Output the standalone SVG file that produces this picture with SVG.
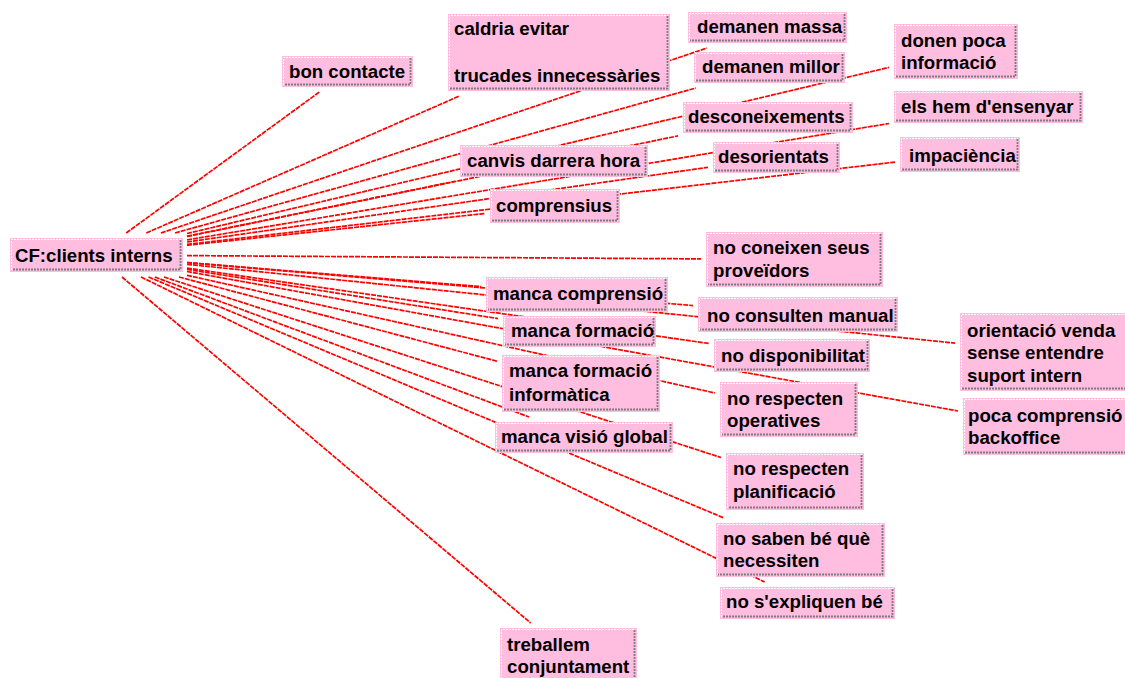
<svg xmlns="http://www.w3.org/2000/svg" width="1125" height="678" viewBox="0 0 1125 678">
  <style>
    .bg { fill: #ffffff; }
    .link { stroke: #ff0000; stroke-width: 1.7; stroke-dasharray: 5 1; fill: none; }
    .node rect { fill: #ffbddf; }
    .node .hi { fill: none; stroke: #ffffff; stroke-width: 1; stroke-dasharray: 2 1; }
    .node .lo { fill: none; stroke: #7c7c7c; stroke-width: 1.8; stroke-dasharray: 2 1; }
    .node text { font-family: "Liberation Sans", Arial, sans-serif; font-weight: bold; font-size: 18.67px; fill: #000000; }
  </style>
  <rect class="bg" x="0" y="0" width="1125" height="678"/>

  <!-- connectors: every branch radiates from the central node -->
  <g id="connectors">
    <line class="link" x1="126.2" y1="233" x2="319.4" y2="92"/>
    <line class="link" x1="146.3" y1="233" x2="459.5" y2="96"/>
    <line class="link" x1="160.9" y1="233" x2="707" y2="48"/>
    <line class="link" x1="175" y1="233" x2="695.9" y2="88"/>
    <line class="link" x1="187" y1="233.5" x2="889" y2="67.4"/>
    <line class="link" x1="187" y1="239.9" x2="889" y2="123.5"/>
    <line class="link" x1="187" y1="244.4" x2="895" y2="162.1"/>
    <line class="link" x1="187" y1="236.4" x2="678" y2="135.9"/>
    <line class="link" x1="187" y1="236.3" x2="455" y2="181.3"/>
    <line class="link" x1="187" y1="242" x2="708" y2="167.3"/>
    <line class="link" x1="187" y1="245.3" x2="485" y2="213.5"/>
    <line class="link" x1="187" y1="255.6" x2="701" y2="258.9"/>
    <line class="link" x1="187" y1="262.5" x2="481" y2="286.6"/>
    <line class="link" x1="187" y1="262.7" x2="693" y2="305.6"/>
    <line class="link" x1="187" y1="269.4" x2="498" y2="318.6"/>
    <line class="link" x1="187" y1="268.1" x2="709" y2="343.5"/>
    <line class="link" x1="179" y1="277" x2="497" y2="361.2"/>
    <line class="link" x1="187" y1="275.3" x2="715" y2="393"/>
    <line class="link" x1="154.8" y1="277" x2="529.2" y2="417"/>
    <line class="link" x1="187" y1="264.3" x2="955" y2="343.1"/>
    <line class="link" x1="187" y1="271.5" x2="958" y2="411"/>
    <line class="link" x1="163.9" y1="277" x2="721" y2="457.5"/>
    <line class="link" x1="148.5" y1="277" x2="724" y2="518"/>
    <line class="link" x1="141" y1="277" x2="764.6" y2="582"/>
    <line class="link" x1="122" y1="277" x2="530.7" y2="623"/>
  </g>

  <!-- nodes: pink boxes with a dotted raised border -->
  <g id="n-cf" class="node">
    <rect x="10" y="238" width="173" height="34"/>
    <path class="hi" d="M11.5,270 V239.5 H181"/><path class="lo" d="M180.5,240 V269.5 H12"/>
    <text x="15" y="262">CF:clients interns</text>
  </g>
  <g id="n-bon-contacte" class="node">
    <rect x="282" y="56" width="131" height="31"/>
    <path class="hi" d="M283.5,85 V57.5 H411"/><path class="lo" d="M410.5,58 V84.5 H284"/>
    <text x="289" y="78">bon contacte</text>
  </g>
  <g id="n-caldria" class="node">
    <rect x="448" y="14" width="222" height="77"/>
    <path class="hi" d="M449.5,89 V15.5 H668"/><path class="lo" d="M667.5,16 V88.5 H450"/>
    <text x="454" y="35">caldria evitar</text>
    <text x="454" y="82">trucades innecessàries</text>
  </g>
  <g id="n-demanen-massa" class="node">
    <rect x="688" y="12" width="159" height="31"/>
    <path class="hi" d="M689.5,41 V13.5 H845"/><path class="lo" d="M844.5,14 V40.5 H690"/>
    <text x="697" y="33">demanen massa</text>
  </g>
  <g id="n-demanen-millor" class="node">
    <rect x="694" y="52" width="151" height="31"/>
    <path class="hi" d="M695.5,81 V53.5 H843"/><path class="lo" d="M842.5,54 V80.5 H696"/>
    <text x="702" y="73">demanen millor</text>
  </g>
  <g id="n-donen-poca" class="node">
    <rect x="894" y="24" width="124" height="55"/>
    <path class="hi" d="M895.5,77 V25.5 H1016"/><path class="lo" d="M1015.5,26 V76.5 H896"/>
    <text x="901" y="47">donen poca</text>
    <text x="901" y="69">informació</text>
  </g>
  <g id="n-els-hem" class="node">
    <rect x="894" y="91" width="189" height="32"/>
    <path class="hi" d="M895.5,121 V92.5 H1081"/><path class="lo" d="M1080.5,93 V120.5 H896"/>
    <text x="901" y="113">els hem d'ensenyar</text>
  </g>
  <g id="n-impaciencia" class="node">
    <rect x="900" y="137" width="120" height="35"/>
    <path class="hi" d="M901.5,170 V138.5 H1018"/><path class="lo" d="M1017.5,139 V169.5 H902"/>
    <text x="909" y="162">impaciència</text>
  </g>
  <g id="n-desconeixements" class="node">
    <rect x="683" y="102" width="170" height="31"/>
    <path class="hi" d="M684.5,131 V103.5 H851"/><path class="lo" d="M850.5,104 V130.5 H685"/>
    <text x="688" y="123">desconeixements</text>
  </g>
  <g id="n-canvis" class="node">
    <rect x="460" y="145" width="188" height="32"/>
    <path class="hi" d="M461.5,175 V146.5 H646"/><path class="lo" d="M645.5,147 V174.5 H462"/>
    <text x="467" y="167">canvis darrera hora</text>
  </g>
  <g id="n-desorientats" class="node">
    <rect x="713" y="142" width="127" height="31"/>
    <path class="hi" d="M714.5,171 V143.5 H838"/><path class="lo" d="M837.5,144 V170.5 H715"/>
    <text x="718" y="163">desorientats</text>
  </g>
  <g id="n-comprensius" class="node">
    <rect x="490" y="189" width="130" height="34"/>
    <path class="hi" d="M491.5,221 V190.5 H618"/><path class="lo" d="M617.5,191 V220.5 H492"/>
    <text x="496" y="212">comprensius</text>
  </g>
  <g id="n-no-coneixen" class="node">
    <rect x="706" y="232" width="177" height="55"/>
    <path class="hi" d="M707.5,285 V233.5 H881"/><path class="lo" d="M880.5,234 V284.5 H708"/>
    <text x="713" y="254">no coneixen seus</text>
    <text x="713" y="277">proveïdors</text>
  </g>
  <g id="n-manca-comprensio" class="node">
    <rect x="486" y="277" width="182" height="35"/>
    <path class="hi" d="M487.5,310 V278.5 H666"/><path class="lo" d="M665.5,279 V309.5 H488"/>
    <text x="493" y="300">manca comprensió</text>
  </g>
  <g id="n-no-consulten" class="node">
    <rect x="698" y="297" width="200" height="35"/>
    <path class="hi" d="M699.5,330 V298.5 H896"/><path class="lo" d="M895.5,299 V329.5 H700"/>
    <text x="707" y="322">no consulten manual</text>
  </g>
  <g id="n-manca-formacio" class="node">
    <rect x="503" y="316" width="153" height="31"/>
    <path class="hi" d="M504.5,345 V317.5 H654"/><path class="lo" d="M653.5,318 V344.5 H505"/>
    <text x="511" y="337">manca formació</text>
  </g>
  <g id="n-no-disponibilitat" class="node">
    <rect x="714" y="339" width="156" height="33"/>
    <path class="hi" d="M715.5,370 V340.5 H868"/><path class="lo" d="M867.5,341 V369.5 H716"/>
    <text x="721" y="362">no disponibilitat</text>
  </g>
  <g id="n-manca-formacio-info" class="node">
    <rect x="502" y="355" width="158" height="57"/>
    <path class="hi" d="M503.5,410 V356.5 H658"/><path class="lo" d="M657.5,357 V409.5 H504"/>
    <text x="509" y="377">manca formació</text>
    <text x="509" y="401">informàtica</text>
  </g>
  <g id="n-no-respecten-operatives" class="node">
    <rect x="720" y="382" width="138" height="55"/>
    <path class="hi" d="M721.5,435 V383.5 H856"/><path class="lo" d="M855.5,384 V434.5 H722"/>
    <text x="727" y="405">no respecten</text>
    <text x="727" y="427">operatives</text>
  </g>
  <g id="n-manca-visio" class="node">
    <rect x="495" y="422" width="178" height="31"/>
    <path class="hi" d="M496.5,451 V423.5 H671"/><path class="lo" d="M670.5,424 V450.5 H497"/>
    <text x="501" y="443">manca visió global</text>
  </g>
  <g id="n-orientacio" class="node">
    <rect x="960" y="313" width="170" height="78"/>
    <path class="hi" d="M961.5,389 V314.5 H1128"/><path class="lo" d="M1127.5,315 V388.5 H962"/>
    <text x="967" y="337">orientació venda</text>
    <text x="967" y="359">sense entendre</text>
    <text x="967" y="382">suport intern</text>
  </g>
  <g id="n-poca-comprensio" class="node">
    <rect x="963" y="398" width="167" height="57"/>
    <path class="hi" d="M964.5,453 V399.5 H1128"/><path class="lo" d="M1127.5,400 V452.5 H965"/>
    <text x="968" y="422">poca comprensió</text>
    <text x="968" y="444">backoffice</text>
  </g>
  <g id="n-no-respecten-planificacio" class="node">
    <rect x="726" y="453" width="138" height="57"/>
    <path class="hi" d="M727.5,508 V454.5 H862"/><path class="lo" d="M861.5,455 V507.5 H728"/>
    <text x="733" y="475">no respecten</text>
    <text x="733" y="498">planificació</text>
  </g>
  <g id="n-no-saben" class="node">
    <rect x="716" y="523" width="169" height="54"/>
    <path class="hi" d="M717.5,575 V524.5 H883"/><path class="lo" d="M882.5,525 V574.5 H718"/>
    <text x="723" y="545">no saben bé què</text>
    <text x="723" y="567">necessiten</text>
  </g>
  <g id="n-no-s-expliquen" class="node">
    <rect x="720" y="587" width="175" height="32"/>
    <path class="hi" d="M721.5,617 V588.5 H893"/><path class="lo" d="M892.5,589 V616.5 H722"/>
    <text x="726" y="608">no s'expliquen bé</text>
  </g>
  <g id="n-treballem" class="node">
    <rect x="500" y="628" width="137" height="62"/>
    <path class="hi" d="M501.5,688 V629.5 H635"/><path class="lo" d="M634.5,630 V687.5 H502"/>
    <text x="507" y="651">treballem</text>
    <text x="507" y="673">conjuntament</text>
  </g>
</svg>
